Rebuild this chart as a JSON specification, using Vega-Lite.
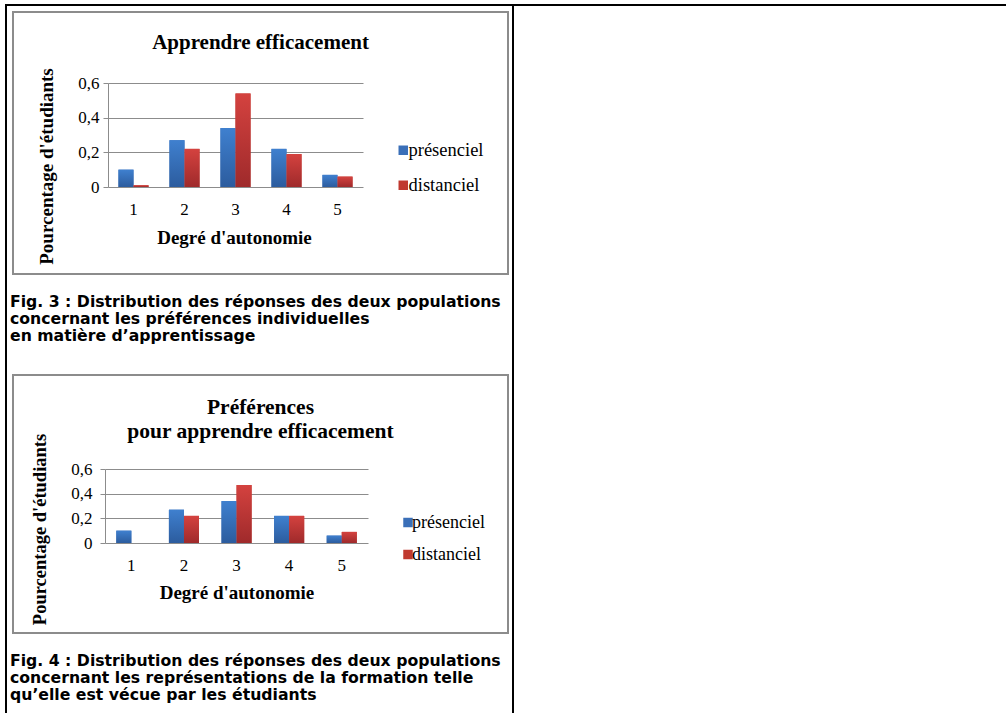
{
  "$schema": "https://vega.github.io/schema/vega-lite/v6.json",
  "padding": {"left": 5, "top": 4, "right": 0, "bottom": 0},
  "background": "white",
  "config": {
    "view": {"stroke": null},
    "font": "Liberation Serif"
  },
  "datasets": {
    "fig3": [
      {"degre": 1, "serie": "présenciel", "valeur": 0.10},
      {"degre": 1, "serie": "distanciel", "valeur": 0.01},
      {"degre": 2, "serie": "présenciel", "valeur": 0.27},
      {"degre": 2, "serie": "distanciel", "valeur": 0.22},
      {"degre": 3, "serie": "présenciel", "valeur": 0.34},
      {"degre": 3, "serie": "distanciel", "valeur": 0.54},
      {"degre": 4, "serie": "présenciel", "valeur": 0.22},
      {"degre": 4, "serie": "distanciel", "valeur": 0.19},
      {"degre": 5, "serie": "présenciel", "valeur": 0.07},
      {"degre": 5, "serie": "distanciel", "valeur": 0.06}
    ],
    "fig4": [
      {"degre": 1, "serie": "présenciel", "valeur": 0.10},
      {"degre": 1, "serie": "distanciel", "valeur": 0.0},
      {"degre": 2, "serie": "présenciel", "valeur": 0.27},
      {"degre": 2, "serie": "distanciel", "valeur": 0.22},
      {"degre": 3, "serie": "présenciel", "valeur": 0.34},
      {"degre": 3, "serie": "distanciel", "valeur": 0.47},
      {"degre": 4, "serie": "présenciel", "valeur": 0.22},
      {"degre": 4, "serie": "distanciel", "valeur": 0.22},
      {"degre": 5, "serie": "présenciel", "valeur": 0.06},
      {"degre": 5, "serie": "distanciel", "valeur": 0.09}
    ],
    "empty": []
  },
  "spacing": 0,
  "vconcat": [
    {
      "width": 1001, "height": 2,
      "view": {"fill": "black", "stroke": null},
      "data": {"name": "empty"},
      "mark": "point"
    },
    {
      "spacing": 3,
      "hconcat": [
        {
          "width": 2, "height": 707,
          "view": {"fill": "black", "stroke": null},
          "data": {"name": "empty"},
          "mark": "point"
        },
        {
          "spacing": 29,
          "resolve": {"scale": {"color": "independent"}, "legend": {"color": "independent"}},
          "vconcat": [
            {
              "spacing": 4,
              "vconcat": [
                {
                  "width": 1, "height": 1,
                  "view": {"fill": "white", "stroke": null},
                  "data": {"name": "empty"},
                  "mark": "point"
                },
                {
                  "title": {
                    "text": ["Fig. 3 : Distribution des réponses des deux populations", "concernant les préférences individuelles", "en matière d’apprentissage"],
                    "orient": "bottom", "anchor": "start", "frame": "bounds",
                    "font": "DejaVu Sans", "fontSize": 15.7, "fontWeight": "bold", "color": "black",
                    "baseline": "alphabetic", "offset": 31.7, "lineHeight": 17.4, "dx": -2
                  },
                  "vconcat": [
                    {
                      "width": 495, "height": 262,
                      "view": {"stroke": "#8c8c8c", "strokeWidth": 2},
                      "title": {
                        "text": "Apprendre efficacement",
                        "font": "Liberation Serif", "fontSize": 21, "fontWeight": "bold", "color": "black",
                        "anchor": "middle", "frame": "group", "baseline": "alphabetic", "offset": -58
                      },
                      "data": {"name": "fig3"},
                      "encoding": {
                        "x": {
                          "field": "degre", "type": "ordinal",
                          "scale": {"range": [95, 350], "paddingInner": 0.41, "paddingOuter": 0.205},
                          "axis": {
                            "orient": "bottom", "offset": -87, "domain": false, "ticks": false, "grid": false,
                            "labelAngle": 0, "labelFont": "Liberation Serif", "labelFontSize": 17, "labelColor": "black",
                            "labelBaseline": "alphabetic", "labelPadding": 27,
                            "title": "Degré d'autonomie", "titleFont": "Liberation Serif", "titleFontSize": 19,
                            "titleFontWeight": "bold", "titleColor": "black",
                            "titleX": 221, "titleY": 56, "titleAlign": "center", "titleBaseline": "alphabetic"
                          }
                        },
                        "xOffset": {"field": "serie", "type": "nominal", "scale": {"domain": ["présenciel", "distanciel"], "paddingInner": 0, "paddingOuter": 0}},
                        "y": {
                          "field": "valeur", "type": "quantitative",
                          "scale": {"domain": [0, 0.6], "range": [175, 71], "nice": false, "zero": true},
                          "axis": {
                            "orient": "left", "offset": -95, "values": [0, 0.2, 0.4, 0.6],
                            "labelExpr": "replace(format(datum.value, '.1~f'), '.', ',')",
                            "grid": true, "gridColor": "#8c8c8c", "gridWidth": 1, "gridOpacity": 1,
                            "domain": true, "domainColor": "#8c8c8c", "domainWidth": 1,
                            "ticks": true, "tickSize": 5, "tickColor": "#8c8c8c", "tickWidth": 1,
                            "labelFont": "Liberation Serif", "labelFontSize": 17, "labelColor": "black", "labelPadding": 4,
                            "title": "Pourcentage d'étudiants", "titleFont": "Liberation Serif", "titleFontSize": 19,
                            "titleFontWeight": "bold", "titleColor": "black",
                            "titleX": -62, "titleY": 154, "titleAngle": 270, "titleAlign": "center", "titleBaseline": "middle"
                          }
                        }
                      },
                      "layer": [
                        {
                          "mark": {"type": "bar"},
                          "encoding": {
                            "color": {
                              "field": "serie", "type": "nominal",
                              "scale": {"domain": ["présenciel", "distanciel"], "range": ["#3a6fb8", "#c0392f"]},
                              "legend": {
                                "title": null, "orient": "none", "legendX": 381, "legendY": 135, "direction": "vertical",
                                "symbolType": "square", "symbolSize": 90, "symbolStrokeWidth": 0,
                                "labelFont": "Liberation Serif", "labelFontSize": 18.5, "labelColor": "black",
                                "labelOffset": -4, "rowPadding": 16, "padding": 0
                              }
                            }
                          }
                        },
                        {
                          "mark": {"type": "bar"},
                          "encoding": {
                            "fill": {
                              "condition": {
                                "test": "datum.serie === 'présenciel'",
                                "value": {"gradient": "linear", "x1": 0, "y1": 0, "x2": 0, "y2": 1, "stops": [{"offset": 0, "color": "#3f80cf"}, {"offset": 1, "color": "#2c5c9e"}]}
                              },
                              "value": {"gradient": "linear", "x1": 0, "y1": 0, "x2": 0, "y2": 1, "stops": [{"offset": 0, "color": "#d4423f"}, {"offset": 1, "color": "#9f2a2b"}]}
                            }
                          }
                        }
                      ]
                    }
                  ]
                }
              ]
            },
            {
              "title": {
                "text": ["Fig. 4 : Distribution des réponses des deux populations", "concernant les représentations de la formation telle", "qu’elle est vécue par les étudiants"],
                "orient": "bottom", "anchor": "start", "frame": "bounds",
                "font": "DejaVu Sans", "fontSize": 15.7, "fontWeight": "bold", "color": "black",
                "baseline": "alphabetic", "offset": 31.7, "lineHeight": 17.4, "dx": -2
              },
              "vconcat": [
                {
                  "width": 495, "height": 258,
                  "view": {"stroke": "#8c8c8c", "strokeWidth": 2},
                  "title": {
                    "text": ["Préférences", "pour apprendre efficacement"],
                    "font": "Liberation Serif", "fontSize": 21.5, "fontWeight": "bold", "color": "black",
                    "anchor": "middle", "frame": "group", "baseline": "alphabetic", "offset": -84, "lineHeight": 24
                  },
                  "data": {"name": "fig4"},
                  "encoding": {
                    "x": {
                      "field": "degre", "type": "ordinal",
                      "scale": {"range": [92, 355], "paddingInner": 0.43, "paddingOuter": 0.215},
                      "axis": {
                        "orient": "bottom", "offset": -90, "domain": false, "ticks": false, "grid": false,
                        "labelAngle": 0, "labelFont": "Liberation Serif", "labelFontSize": 17, "labelColor": "black",
                        "labelBaseline": "alphabetic", "labelPadding": 27,
                        "title": "Degré d'autonomie", "titleFont": "Liberation Serif", "titleFontSize": 19,
                        "titleFontWeight": "bold", "titleColor": "black",
                        "titleX": 223.5, "titleY": 55.5, "titleAlign": "center", "titleBaseline": "alphabetic"
                      }
                    },
                    "xOffset": {"field": "serie", "type": "nominal", "scale": {"domain": ["présenciel", "distanciel"], "paddingInner": 0, "paddingOuter": 0}},
                    "y": {
                      "field": "valeur", "type": "quantitative",
                      "scale": {"domain": [0, 0.6], "range": [168, 94], "nice": false, "zero": true},
                      "axis": {
                        "orient": "left", "offset": -92, "values": [0, 0.2, 0.4, 0.6],
                        "labelExpr": "replace(format(datum.value, '.1~f'), '.', ',')",
                        "grid": true, "gridColor": "#8c8c8c", "gridWidth": 1, "gridOpacity": 1,
                        "domain": true, "domainColor": "#8c8c8c", "domainWidth": 1,
                        "ticks": true, "tickSize": 5, "tickColor": "#8c8c8c", "tickWidth": 1,
                        "labelFont": "Liberation Serif", "labelFontSize": 17, "labelColor": "black", "labelPadding": 8,
                        "title": "Pourcentage d'étudiants", "titleFont": "Liberation Serif", "titleFontSize": 18.5,
                        "titleFontWeight": "bold", "titleColor": "black",
                        "titleX": -66, "titleY": 154, "titleAngle": 270, "titleAlign": "center", "titleBaseline": "middle"
                      }
                    }
                  },
                  "layer": [
                    {
                      "mark": {"type": "bar"},
                      "encoding": {
                        "color": {
                          "field": "serie", "type": "nominal",
                          "scale": {"domain": ["présenciel", "distanciel"], "range": ["#3a6fb8", "#c0392f"]},
                          "legend": {
                            "title": null, "orient": "none", "legendX": 386, "legendY": 138.5, "direction": "vertical",
                            "symbolType": "square", "symbolSize": 90, "symbolStrokeWidth": 0,
                            "labelFont": "Liberation Serif", "labelFontSize": 18, "labelColor": "black",
                            "labelOffset": -5, "rowPadding": 14, "padding": 0
                          }
                        }
                      }
                    },
                    {
                      "mark": {"type": "bar"},
                      "encoding": {
                        "fill": {
                          "condition": {
                            "test": "datum.serie === 'présenciel'",
                            "value": {"gradient": "linear", "x1": 0, "y1": 0, "x2": 0, "y2": 1, "stops": [{"offset": 0, "color": "#3f80cf"}, {"offset": 1, "color": "#2c5c9e"}]}
                          },
                          "value": {"gradient": "linear", "x1": 0, "y1": 0, "x2": 0, "y2": 1, "stops": [{"offset": 0, "color": "#d4423f"}, {"offset": 1, "color": "#9f2a2b"}]}
                        }
                      }
                    }
                  ]
                }
              ]
            }
          ]
        },
        {
          "width": 2, "height": 707,
          "view": {"fill": "black", "stroke": null},
          "data": {"name": "empty"},
          "mark": "point"
        }
      ]
    }
  ]
}
